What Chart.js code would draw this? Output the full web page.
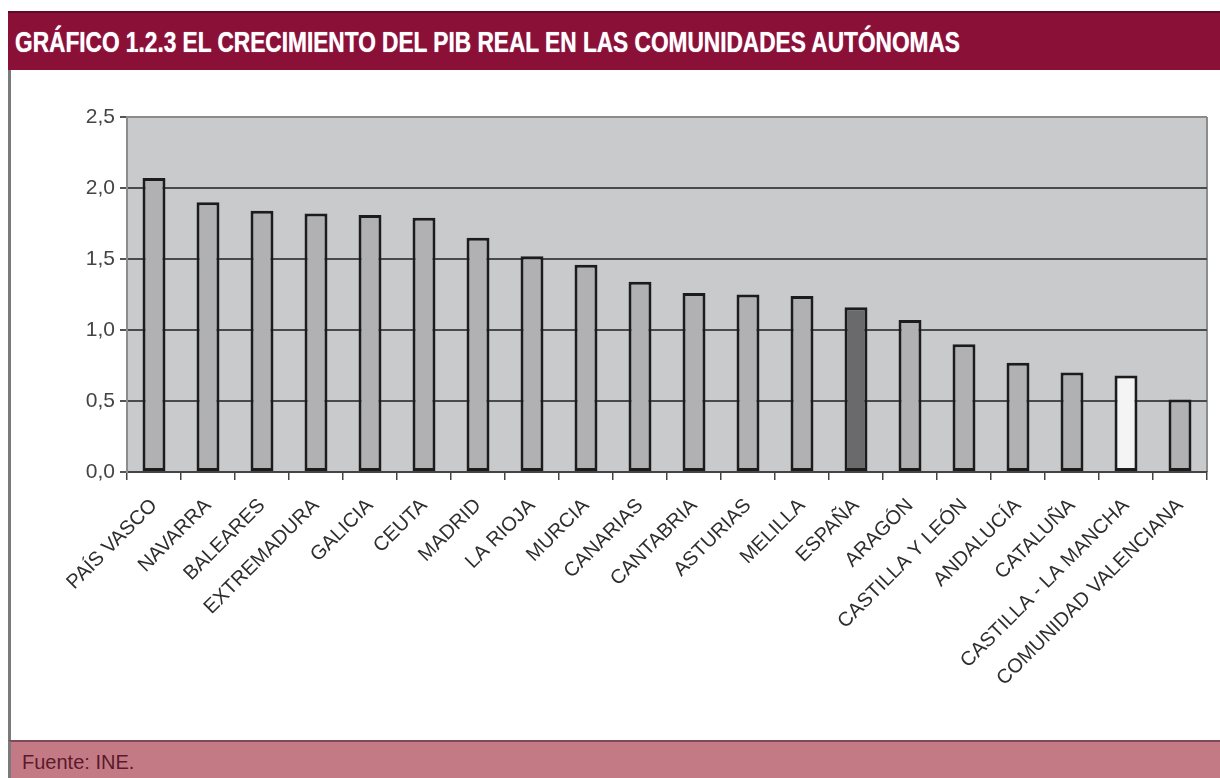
<!DOCTYPE html>
<html>
<head>
<meta charset="utf-8">
<script src="https://cdn.jsdelivr.net/npm/chart.js@4.4.1/dist/chart.umd.min.js"></script>
<style>
html,body{margin:0;padding:0;background:#fff;width:1220px;height:778px;overflow:hidden;position:relative;font-family:'Liberation Sans',Arial,sans-serif}
#title{position:absolute;left:8px;top:11px;width:1212px;height:59px;background:#8a1038;border-top:2px solid #5e0a26;box-sizing:border-box}
#title span{position:absolute;left:7px;top:50%;transform-origin:left center;transform:translateY(-50%);color:#fff;font:bold 30px 'Liberation Sans Narrow','Liberation Sans',Arial,sans-serif;white-space:nowrap;text-shadow:0 0 1px #f3d6de}
#frame{position:absolute;left:8px;top:70px;width:3px;height:708px;background:#7a7a7a}
#footer{position:absolute;left:8px;top:740px;width:1212px;height:38px;background:#c47a85;border-top:2px solid #7d4b55;border-left:3px solid #7a7a7a;box-sizing:border-box}
#footer span{position:absolute;left:11px;top:9px;color:#5a1a2c;font:20px 'Liberation Sans',Arial,sans-serif}
#wrap{position:absolute;left:12px;top:72px;width:1208px;height:668px}
</style>
</head>
<body>
<div id="title"><span id="titleText">GRÁFICO 1.2.3 EL CRECIMIENTO DEL PIB REAL EN LAS COMUNIDADES AUTÓNOMAS</span></div>
<div id="frame"></div>
<div id="wrap"><canvas id="c"></canvas></div>
<div id="footer"><span>Fuente: INE.</span></div>
<script>
const categories = ['PAÍS VASCO','NAVARRA','BALEARES','EXTREMADURA','GALICIA','CEUTA','MADRID','LA RIOJA','MURCIA','CANARIAS','CANTABRIA','ASTURIAS','MELILLA','ESPAÑA','ARAGÓN','CASTILLA Y LEÓN','ANDALUCÍA','CATALUÑA','CASTILLA - LA MANCHA','COMUNIDAD VALENCIANA'];
const growth = [2.07,1.90,1.84,1.82,1.81,1.79,1.65,1.52,1.46,1.34,1.26,1.25,1.24,1.16,1.07,0.90,0.77,0.70,0.68,0.51];
const yTickValues = [0,0.5,1.0,1.5,2.0,2.5];
const highlightNational = 'ESPAÑA';
const highlightLight = 'CASTILLA - LA MANCHA';

// fit title width
const t = document.getElementById('titleText');
const w = t.getBoundingClientRect().width;
t.style.transform = 'translateY(-50%) scaleX(' + (945 / w) + ')';

const barColors = categories.map(c => c === highlightNational ? '#6a6a6c' : (c === highlightLight ? '#f4f4f4' : '#b1b1b3'));

const plotBg = {
  id: 'plotBg',
  beforeDraw(chart) {
    const {ctx, chartArea: a} = chart;
    ctx.save();
    ctx.fillStyle = '#c9cacc';
    ctx.fillRect(a.left, a.top, a.right - a.left, a.bottom - a.top);
    ctx.strokeStyle = '#8c8c8c';
    ctx.lineWidth = 2;
    ctx.beginPath();
    ctx.moveTo(a.right, a.bottom);
    ctx.lineTo(a.right, a.top);
    ctx.stroke();
    ctx.restore();
  }
};

new Chart(document.getElementById('c'), {
  type: 'bar',
  data: {
    labels: categories,
    datasets: [{
      data: growth,
      backgroundColor: barColors,
      borderColor: '#1c1c1c',
      borderWidth: 3,
      borderSkipped: false,
      barPercentage: 0.425,
      categoryPercentage: 1.0
    }]
  },
  options: {
    responsive: true,
    maintainAspectRatio: false,
    animation: false,
    layout: {padding: {top: 45, right: 13, bottom: 0, left: 0}},
    plugins: {legend: {display: false}, tooltip: {enabled: false}},
    scales: {
      x: {
        grid: {offset: true, drawOnChartArea: false, tickLength: 8, tickColor: '#444', lineWidth: 1.5},
        border: {color: '#444', width: 2},
        ticks: {autoSkip: false, maxRotation: 45, minRotation: 45, padding: 14, color: '#2e2e2e',
          font: {family: "'Liberation Sans', Arial, sans-serif", size: 20}},
        afterFit(scale) { scale.height = 268; }
      },
      y: {
        min: 0, max: 2.5,
        afterBuildTicks(scale) { scale.ticks = yTickValues.map(v => ({value: v})); },
        grid: {
          color: ctx => (ctx.tick && ctx.tick.value === 2.5) ? '#8c8c8c' : '#4a4a4a',
          lineWidth: 2, tickLength: 7, tickColor: '#555'
        },
        border: {color: '#8c8c8c', width: 2},
        ticks: {padding: 5, color: '#444',
          font: {family: "'Liberation Sans', Arial, sans-serif", size: 21},
          callback: v => Number(v).toFixed(1).replace('.', ',')},
        afterFit(scale) { scale.width = 115; }
      }
    }
  },
  plugins: [plotBg]
});
</script>
</body>
</html>
